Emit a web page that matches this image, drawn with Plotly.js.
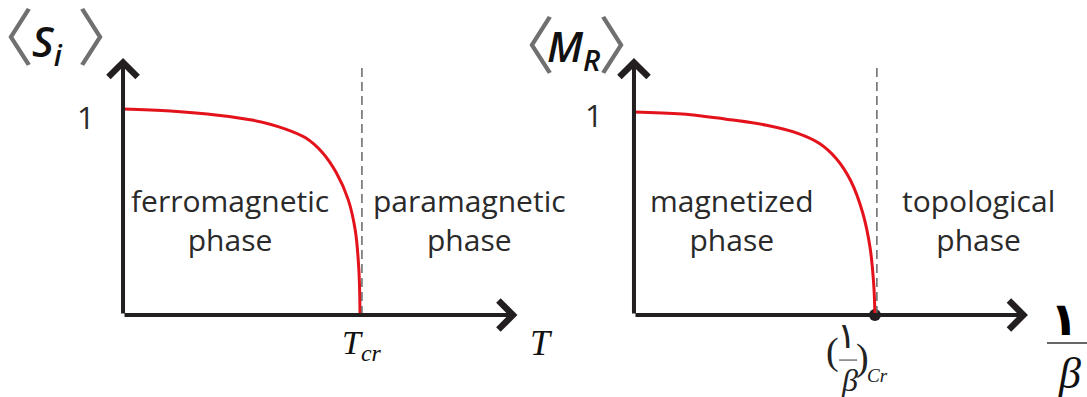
<!DOCTYPE html>
<html>
<head>
<meta charset="utf-8">
<script src="https://cdn.plot.ly/plotly-3.0.1.min.js"></script>
<style>
  html, body { margin: 0; padding: 0; background: #fff; }
  #chart { width: 1087px; height: 397px; }
</style>
</head>
<body>
<div id="chart"></div>
<script>
(() => {
  "use strict";

  // left panel: spin order vs temperature (T / Tcr)
  const tempX = [0, 0.2, 0.4, 0.55, 0.68, 0.77, 0.84, 0.9, 0.95, 0.98, 0.995, 1.0];
  const spinY = [1.0, 0.99, 0.97, 0.945, 0.905, 0.86, 0.79, 0.69, 0.56, 0.41, 0.22, 0];
  const paraX = [1.0, 1.63];
  const paraY = [0, 0];

  // right panel: magnetization vs 1/beta
  const betaX = [0, 0.2, 0.4, 0.55, 0.68, 0.77, 0.84, 0.9, 0.95, 0.98, 0.995, 1.0];
  const magY = [1.0, 0.99, 0.962, 0.935, 0.895, 0.845, 0.77, 0.66, 0.5, 0.33, 0.15, 0];
  const topoX = [1.0, 1.45];
  const topoY = [0, 0];
  const critX = [1.0];
  const critY = [0];

  // axis extents (arrow tips) and critical guide lines
  const leftAxisEnd = { x: 1.664, y: 1.248 };
  const rightAxisEnd = { x: 1.635, y: 1.266 };
  const leftGuide = { x: 1.008, y: 1.214 };
  const rightGuide = { x: 1.008, y: 1.232 };

  const RED = "#e3121b";
  const INK = "#231f20";
  const TEXT = "#2a2a2a";

  const data = [
    { x: critX, y: critY, xaxis: "x2", yaxis: "y2", type: "scatter", mode: "markers",
      marker: { size: 12, color: INK }, cliponaxis: false },
    { x: tempX, y: spinY, type: "scatter", mode: "lines",
      line: { color: RED, width: 3, shape: "spline", smoothing: 1 }, cliponaxis: false },
    { x: paraX, y: paraY, type: "scatter", mode: "lines",
      line: { color: RED, width: 4 }, cliponaxis: false },
    { x: betaX, y: magY, xaxis: "x2", yaxis: "y2", type: "scatter", mode: "lines",
      line: { color: RED, width: 3, shape: "spline", smoothing: 1 }, cliponaxis: false },
    { x: topoX, y: topoY, xaxis: "x2", yaxis: "y2", type: "scatter", mode: "lines",
      line: { color: RED, width: 4 }, cliponaxis: false }
  ];

  function axisArrow(xref, yref, x, y) {
    return {
      xref: xref, yref: yref, axref: xref, ayref: yref,
      x: x, y: y, ax: 0, ay: 0, text: "",
      showarrow: true, arrowhead: 4, arrowsize: 1.4, arrowwidth: 4, arrowcolor: INK,
      standoff: 0
    };
  }

  function label(xref, yref, x, y, text, font) {
    return {
      xref: xref, yref: yref, x: x, y: y, text: text, showarrow: false,
      xanchor: "center", yanchor: "middle", borderpad: 0,
      font: Object.assign({ family: "Open Sans", size: 30, color: TEXT }, font || {})
    };
  }

  const phaseFont = { family: "Open Sans", size: 30, color: TEXT };
  const bracketFont = { family: "Noto Sans CJK SC", size: 62, color: "#707070" };
  const symFont = { family: "Open Sans", size: 42, color: "#111", style: "italic", weight: 600 };
  const serifIt = { family: "Liberation Serif", size: 36, color: "#111", style: "italic" };

  const annotations = [
    // drawn axes
    axisArrow("x", "y", 0, leftAxisEnd.y),
    axisArrow("x", "y", leftAxisEnd.x, 0),
    axisArrow("x2", "y2", 0, rightAxisEnd.y),
    axisArrow("x2", "y2", rightAxisEnd.x, 0),

    // left panel texts
    label("x", "y", -0.156, 0.961, "1", { size: 31, weight: 500 }),
    label("x", "y", -0.508, 1.364, "\u3008", bracketFont),
    label("x", "y", -0.318, 1.32, "S<sub>i</sub>", symFont),
    label("x", "y", -0.065, 1.364, "\u3009", bracketFont),
    label("x", "y", 0.451, 0.46, "ferromagnetic<br>phase", phaseFont),
    label("x", "y", 1.462, 0.46, "paramagnetic<br>phase", phaseFont),
    label("x", "y", 1.008, -0.146, "T<sub>cr</sub>", { family: "Liberation Serif", size: 34, color: "#111", style: "italic" }),
    label("x", "y", 1.764, -0.136, "T", serifIt),

    // right panel texts
    label("x2", "y2", -0.166, 0.985, "1", { size: 31, weight: 500 }),
    label("paper", "y2", 524 / 1087, 1.345, "\u3008", bracketFont),
    label("x2", "y2", -0.25, 1.315, "M<sub>R</sub>", symFont),
    label("x2", "y2", -0.021, 1.345, "\u3009", bracketFont),
    label("x2", "y2", 0.405, 0.466, "magnetized<br>phase", phaseFont),
    label("x2", "y2", 1.43, 0.466, "topological<br>phase", phaseFont),
    label("x2", "y2", 0.822, -0.182, "(", { family: "Liberation Serif", size: 38, color: "#222" }),
    label("x2", "y2", 0.880, -0.103, "\u0661", { family: "DejaVu Sans", size: 36, color: "#222" }),
    label("x2", "y2", 0.896, -0.320, "\u03B2", { family: "Liberation Serif", size: 32, color: "#222", style: "italic" }),
    label("x2", "y2", 0.950, -0.207, ")", { family: "Liberation Serif", size: 38, color: "#222" }),
    label("x2", "y2", 1.01, -0.296, "Cr", { family: "Liberation Serif", size: 19, color: "#222", style: "italic" }),
    label("x2", "y2", 1.784, -0.02, "\u0661", { family: "DejaVu Sans", size: 46, color: "#000", weight: "bold" }),
    label("x2", "y2", 1.809, -0.286, "\u03B2", { family: "Liberation Serif", size: 44, color: "#111", style: "italic" })
  ];

  const shapes = [
    { type: "line", xref: "x", yref: "y", x0: leftGuide.x, x1: leftGuide.x, y0: 0, y1: leftGuide.y,
      line: { color: "#666", width: 1.5, dash: "9px,5px" } },
    { type: "line", xref: "x2", yref: "y2", x0: rightGuide.x, x1: rightGuide.x, y0: 0, y1: rightGuide.y,
      line: { color: "#666", width: 1.5, dash: "9px,5px" } },
    // fraction bars
    { type: "line", xref: "x2", yref: "y2", x0: 0.851, x1: 0.926, y0: -0.222, y1: -0.222,
      line: { color: "#555", width: 1.2 } },
    { type: "line", xref: "x2", yref: "y2", x0: 1.714, x1: 1.88, y0: -0.138, y1: -0.138,
      line: { color: "#333", width: 1.5 } }
  ];

  const hidden = { visible: false, fixedrange: true };

  const layout = {
    width: 1087, height: 397,
    margin: { l: 0, r: 0, t: 0, b: 0 },
    paper_bgcolor: "#fff", plot_bgcolor: "#fff",
    showlegend: false,
    xaxis: Object.assign({ domain: [0, 0.5], range: [-0.519, 1.774], anchor: "y" }, hidden),
    yaxis: Object.assign({ domain: [0, 1], range: [-0.398, 1.529], anchor: "x" }, hidden),
    xaxis2: Object.assign({ domain: [0.5, 1], range: [-0.3755, 1.880], anchor: "y2" }, hidden),
    yaxis2: Object.assign({ domain: [0, 1], range: [-0.404, 1.552], anchor: "x2" }, hidden),
    annotations: annotations,
    shapes: shapes
  };

  Plotly.newPlot("chart", data, layout, { displayModeBar: false, staticPlot: true });
})();
</script>
</body>
</html>
